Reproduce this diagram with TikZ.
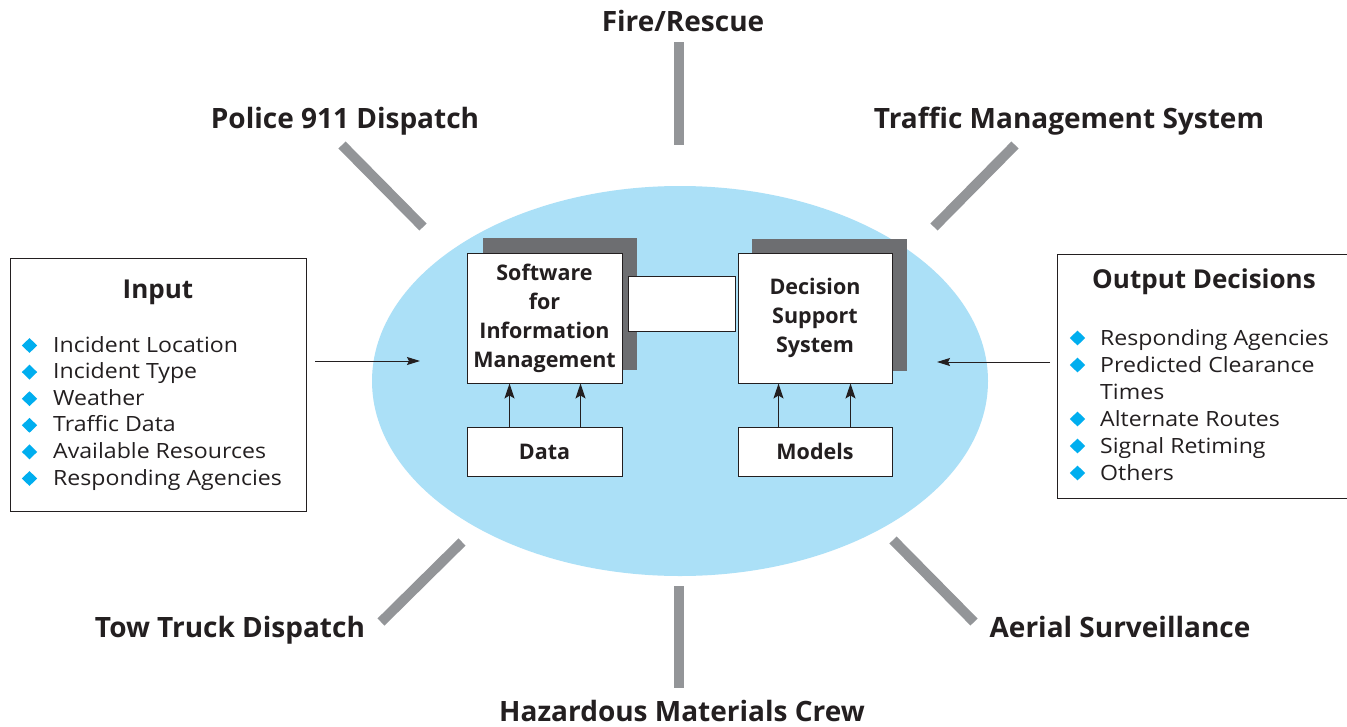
\documentclass[tikz,border=0pt]{standalone}
\usepackage{fontspec}
\setmainfont{Open Sans}
\newfontfamily\itemfont[FakeStretch=1.1]{Open Sans}
\usetikzlibrary{arrows.meta,shapes.geometric}
\definecolor{ellblue}{HTML}{ABE0F7}
\definecolor{bargray}{HTML}{939598}
\definecolor{shadowgray}{HTML}{6D6E71}
\definecolor{bulcyan}{HTML}{00AEEF}
\definecolor{txt}{HTML}{231F20}
\tikzset{
  bar/.style={line width=10pt, draw=bargray},
  lab/.style={anchor=base, text=txt, font=\fontsize{28pt}{32pt}\selectfont\bfseries, inner sep=0pt},
  wbox/.style={draw=txt, line width=1pt, fill=white, inner sep=0pt, text=txt,
     font=\fontsize{21.5pt}{29pt}\selectfont\bfseries, align=center},
  item/.style={anchor=base west, text=txt, inner sep=0pt, font=\itemfont\fontsize{21pt}{24pt}\selectfont},
  bulnode/.style={shape=diamond, fill=bulcyan, inner sep=0pt, minimum width=15.5pt, minimum height=15pt},
  head/.style={anchor=base, text=txt, inner sep=0pt, font=\fontsize{26pt}{30pt}\selectfont\bfseries},
  listbox/.style={draw=txt, line width=1pt, fill=white, inner sep=0pt},
  uparr/.style={-{Stealth[length=15pt,width=10pt,inset=3pt]}, line width=1pt, draw=txt},
  sidearr/.style={-{Stealth[length=13pt,width=8pt,inset=2pt]}, line width=1pt, draw=txt},
}
\begin{document}
\begin{tikzpicture}[x=1pt,y=-1pt]
\useasboundingbox (0,0) rectangle (1347,726);
\fill[white] (0,0) rectangle (1347,726);
% central ellipse
\fill[ellblue] (680,381) ellipse [x radius=308pt, y radius=195pt];
% spokes
\coordinate (fireA) at (679,42);  \coordinate (fireB) at (679,145);
\coordinate (polA) at (342,145);  \coordinate (polB) at (423,227);
\coordinate (tmsA) at (1015,145); \coordinate (tmsB) at (934,227);
\coordinate (towA) at (462,542);  \coordinate (towB) at (381,622);
\coordinate (hazA) at (679,586);  \coordinate (hazB) at (679,688);
\coordinate (aerA) at (893,540);  \coordinate (aerB) at (974,622);
\draw[bar] (fireA) -- (fireB);
\draw[bar] (polA) -- (polB);
\draw[bar] (tmsA) -- (tmsB);
\draw[bar] (towA) -- (towB);
\draw[bar] (hazA) -- (hazB);
\draw[bar] (aerA) -- (aerB);
% outer labels
\node[lab] (fire) at (683,31) {Fire/Rescue};
\node[lab] (police) at (345,128) {Police 911 Dispatch};
\node[lab] (tms) at (1069,128) {Traffic Management System};
\node[lab] (tow) at (230,637) {Tow Truck Dispatch};
\node[lab] (haz) at (682,721) {Hazardous Materials Crew};
\node[lab] (aer) at (1120,637) {Aerial Surveillance};
% central boxes
\fill[shadowgray] (483,238) rectangle (637,370);
\fill[shadowgray] (752,239) rectangle (907,371);
\node[wbox, minimum width=155pt, minimum height=130pt] (sim) at (544.5,318)
  {Software\\for\\Information\\Management};
\node[wbox, minimum width=154pt, minimum height=130pt] (dss) at (815,318)
  {Decision\\Support\\System};
\node[wbox, minimum width=107pt, minimum height=55pt] (mid) at (681.5,303.5) {};
\node[wbox, minimum width=155pt, minimum height=49pt] (data) at (544.5,451.5) {Data};
\node[wbox, minimum width=154pt, minimum height=49pt] (models) at (815,451.5) {Models};
\draw[uparr] ([xshift=43pt]data.north west) -- ([xshift=43pt]sim.south west);
\draw[uparr] ([xshift=114pt]data.north west) -- ([xshift=114pt]sim.south west);
\draw[uparr] ([xshift=41pt]models.north west) -- ([xshift=41pt]dss.south west);
\draw[uparr] ([xshift=113pt]models.north west) -- ([xshift=113pt]dss.south west);
% input box
\node[listbox, minimum width=296pt, minimum height=253pt] (inbox) at (158,384.5) {};
\node[head] (inhead) at (158,298) {Input};
\node[bulnode] (ib1) at (29.5,345.5) {};
\node[item] (i1) at (53,352) {Incident Location};
\node[bulnode] (ib2) at (29.5,372.1) {};
\node[item] (i2) at (53,378.6) {Incident Type};
\node[bulnode] (ib3) at (29.5,398.7) {};
\node[item] (i3) at (53,405.2) {Weather};
\node[bulnode] (ib4) at (29.5,425.3) {};
\node[item] (i4) at (53,431.8) {Traffic Data};
\node[bulnode] (ib5) at (29.5,451.9) {};
\node[item] (i5) at (53,458.4) {Available Resources};
\node[bulnode] (ib6) at (29.5,478.5) {};
\node[item] (i6) at (53,485) {Responding Agencies};
% output box
\node[listbox, minimum width=290pt, minimum height=244pt] (outbox) at (1202,376) {};
\node[head] (outhead) at (1204,288) {Output Decisions};
\node[bulnode] (ob1) at (1077.5,338) {};
\node[item] (o1) at (1100,345) {Responding Agencies};
\node[bulnode] (ob2) at (1077.5,365) {};
\node[item] (o2) at (1100,372) {Predicted Clearance};
\node[item] (o2b) at (1100,399) {Times};
\node[bulnode] (ob3) at (1077.5,419) {};
\node[item] (o3) at (1100,426) {Alternate Routes};
\node[bulnode] (ob4) at (1077.5,446) {};
\node[item] (o4) at (1100,453) {Signal Retiming};
\node[bulnode] (ob5) at (1077.5,473) {};
\node[item] (o5) at (1100,480) {Others};
% side arrows
\coordinate (inS) at (315,361); \coordinate (inE) at (420,361);
\coordinate (outS) at (1050,362); \coordinate (outE) at (937,362);
\draw[sidearr] (inS) -- (inE);
\draw[sidearr] (outS) -- (outE);
\end{tikzpicture}
\end{document}
